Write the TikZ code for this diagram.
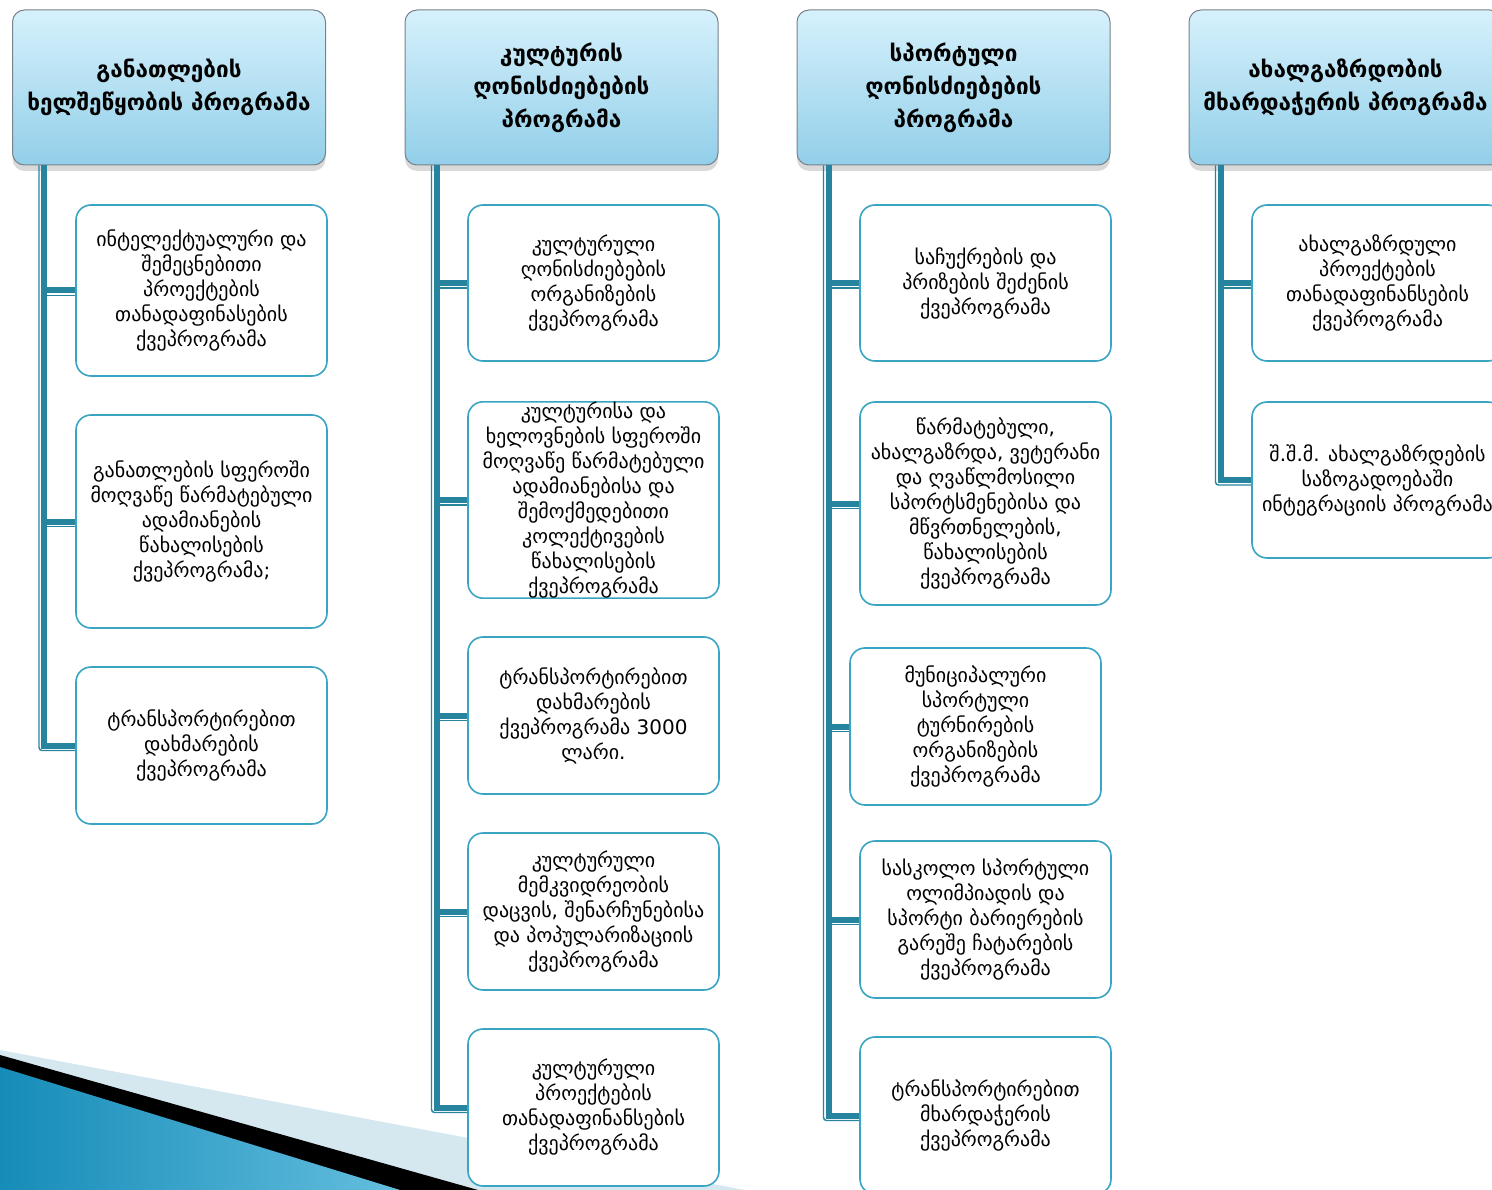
\documentclass[tikz,border=0pt]{standalone}
\usepackage{fontspec}
\setmainfont{DejaVu Sans}
\usetikzlibrary{positioning,shadows}

\definecolor{headtop}{RGB}{214,241,252}
\definecolor{headbot}{RGB}{146,207,233}
\definecolor{headline}{RGB}{120,130,140}
\definecolor{boxline}{RGB}{58,165,194}
\definecolor{trunkcol}{RGB}{38,132,158}
\definecolor{wedgecol}{RGB}{213,232,240}
\definecolor{seadark}{RGB}{22,140,184}
\definecolor{sealight}{RGB}{100,190,222}

\tikzset{
  head/.style={draw=headline, line width=1pt, rounded corners=12pt,
    top color=headtop, bottom color=headbot,
    minimum width=313pt, minimum height=155pt, align=center,
    font=\fontsize{22.5}{33}\selectfont\bfseries,
    drop shadow={shadow xshift=0pt, shadow yshift=-6pt, opacity=0.3, fill=gray}},
  subbox/.style={draw=boxline, line width=1.6pt, rounded corners=15pt, fill=white,
    minimum width=251pt, align=center, inner sep=2pt,
    font=\fontsize{20}{25}\selectfont},
  trunk/.style={draw=trunkcol, line width=6pt},
  trunkedge/.style={draw=trunkcol, line width=1.4pt, rounded corners=3pt}
}

\begin{document}
\begin{tikzpicture}[x=1pt,y=-1pt]
  \useasboundingbox (0,0) rectangle (1492,1190);

  % slide corner
  \fill[wedgecol] (0,1050) -- (745,1190) -- (0,1190) -- cycle;
  \fill[black] (0,1055) -- (478,1190) -- (0,1190) -- cycle;
  \shade[left color=seadark, right color=sealight] (0,1067) -- (400,1190) -- (0,1190) -- cycle;

  % headers
  \node[head] (h1) at (169,87.5)    {განათლების\\ხელშეწყობის პროგრამა};
  \node[head] (h2) at (561.5,87.5)  {კულტურის\\ღონისძიებების\\პროგრამა};
  \node[head] (h3) at (953.5,87.5)  {სპორტული\\ღონისძიებების\\პროგრამა};
  \node[head] (h4) at (1345.5,87.5) {ახალგაზრდობის\\მხარდაჭერის პროგრამა};

  % education
  \node[subbox, minimum height=171pt] (e1) at (201.5,290.5)
    {ინტელექტუალური და\\შემეცნებითი\\პროექტების\\თანადაფინასების\\ქვეპროგრამა};
  \node[subbox, minimum height=213pt] (e2) at (201.5,521.5)
    {განათლების სფეროში\\მოღვაწე წარმატებული\\ადამიანების\\წახალისების\\ქვეპროგრამა;};
  \node[subbox, minimum height=157pt] (e3) at (201.5,745.5)
    {ტრანსპორტირებით\\დახმარების\\ქვეპროგრამა};

  % culture
  \node[subbox, minimum height=156pt] (c1) at (593.5,283)
    {კულტურული\\ღონისძიებების\\ორგანიზების\\ქვეპროგრამა};
  \node[subbox, minimum height=196pt, inner sep=0pt] (c2) at (593.5,500)
    {კულტურისა და\\ხელოვნების სფეროში\\მოღვაწე წარმატებული\\ადამიანებისა და\\შემოქმედებითი\\კოლექტივების\\წახალისების\\ქვეპროგრამა};
  \node[subbox, minimum height=157pt] (c3) at (593.5,715.5)
    {ტრანსპორტირებით\\დახმარების\\ქვეპროგრამა 3000\\ლარი.};
  \node[subbox, minimum height=157pt] (c4) at (593.5,911.5)
    {კულტურული\\მემკვიდრეობის\\დაცვის, შენარჩუნებისა\\და პოპულარიზაციის\\ქვეპროგრამა};
  \node[subbox, minimum height=157pt] (c5) at (593.5,1107.5)
    {კულტურული\\პროექტების\\თანადაფინანსების\\ქვეპროგრამა};

  % sport
  \node[subbox, minimum height=156pt] (s1) at (985.5,283)
    {საჩუქრების და\\პრიზების შეძენის\\ქვეპროგრამა};
  \node[subbox, minimum height=203pt] (s2) at (985.5,503.5)
    {წარმატებული,\\ახალგაზრდა, ვეტერანი\\და ღვაწლმოსილი\\სპორტსმენებისა და\\მწვრთნელების,\\წახალისების\\ქვეპროგრამა};
  \node[subbox, minimum height=157pt] (s3) at (975.5,726.5)
    {მუნიციპალური\\სპორტული\\ტურნირების\\ორგანიზების\\ქვეპროგრამა};
  \node[subbox, minimum height=157pt] (s4) at (985.5,919.5)
    {სასკოლო სპორტული\\ოლიმპიადის და\\სპორტი ბარიერების\\გარეშე ჩატარების\\ქვეპროგრამა};
  \node[subbox, minimum height=157pt] (s5) at (985.5,1115.5)
    {ტრანსპორტირებით\\მხარდაჭერის\\ქვეპროგრამა};

  % youth
  \node[subbox, minimum height=156pt] (y1) at (1377.5,283)
    {ახალგაზრდული\\პროექტების\\თანადაფინანსების\\ქვეპროგრამა};
  \node[subbox, minimum height=156pt] (y2) at (1377.5,480)
    {შ.შ.მ. ახალგაზრდების\\საზოგადოებაში\\ინტეგრაციის პროგრამა};

  % trunks
  \draw[trunkedge] ([xshift=27pt]h1.south west) |- ([yshift=-5pt]e3.west);
  \draw[trunk] ([xshift=32pt]h1.south west) |- (e3.west);
  \foreach \b in {e1,e2}{
    \draw[trunk] ([xshift=32pt]h1.south west |- \b.west) -- (\b.west);
    \draw[trunkedge] ([xshift=32pt,yshift=-5pt]h1.south west |- \b.west) -- ([yshift=-5pt]\b.west);
  }

  \draw[trunkedge] ([xshift=27pt]h2.south west) |- ([yshift=-5pt]c5.west);
  \draw[trunk] ([xshift=32pt]h2.south west) |- (c5.west);
  \foreach \b in {c1,c2,c3,c4}{
    \draw[trunk] ([xshift=32pt]h2.south west |- \b.west) -- (\b.west);
    \draw[trunkedge] ([xshift=32pt,yshift=-5pt]h2.south west |- \b.west) -- ([yshift=-5pt]\b.west);
  }

  \draw[trunkedge] ([xshift=27pt]h3.south west) |- ([yshift=-5pt]s5.west);
  \draw[trunk] ([xshift=32pt]h3.south west) |- (s5.west);
  \foreach \b in {s1,s2,s3,s4}{
    \draw[trunk] ([xshift=32pt]h3.south west |- \b.west) -- (\b.west);
    \draw[trunkedge] ([xshift=32pt,yshift=-5pt]h3.south west |- \b.west) -- ([yshift=-5pt]\b.west);
  }

  \draw[trunkedge] ([xshift=27pt]h4.south west) |- ([yshift=-5pt]y2.west);
  \draw[trunk] ([xshift=32pt]h4.south west) |- (y2.west);
  \draw[trunk] ([xshift=32pt]h4.south west |- y1.west) -- (y1.west);
  \draw[trunkedge] ([xshift=32pt,yshift=-5pt]h4.south west |- y1.west) -- ([yshift=-5pt]y1.west);
\end{tikzpicture}
\end{document}
